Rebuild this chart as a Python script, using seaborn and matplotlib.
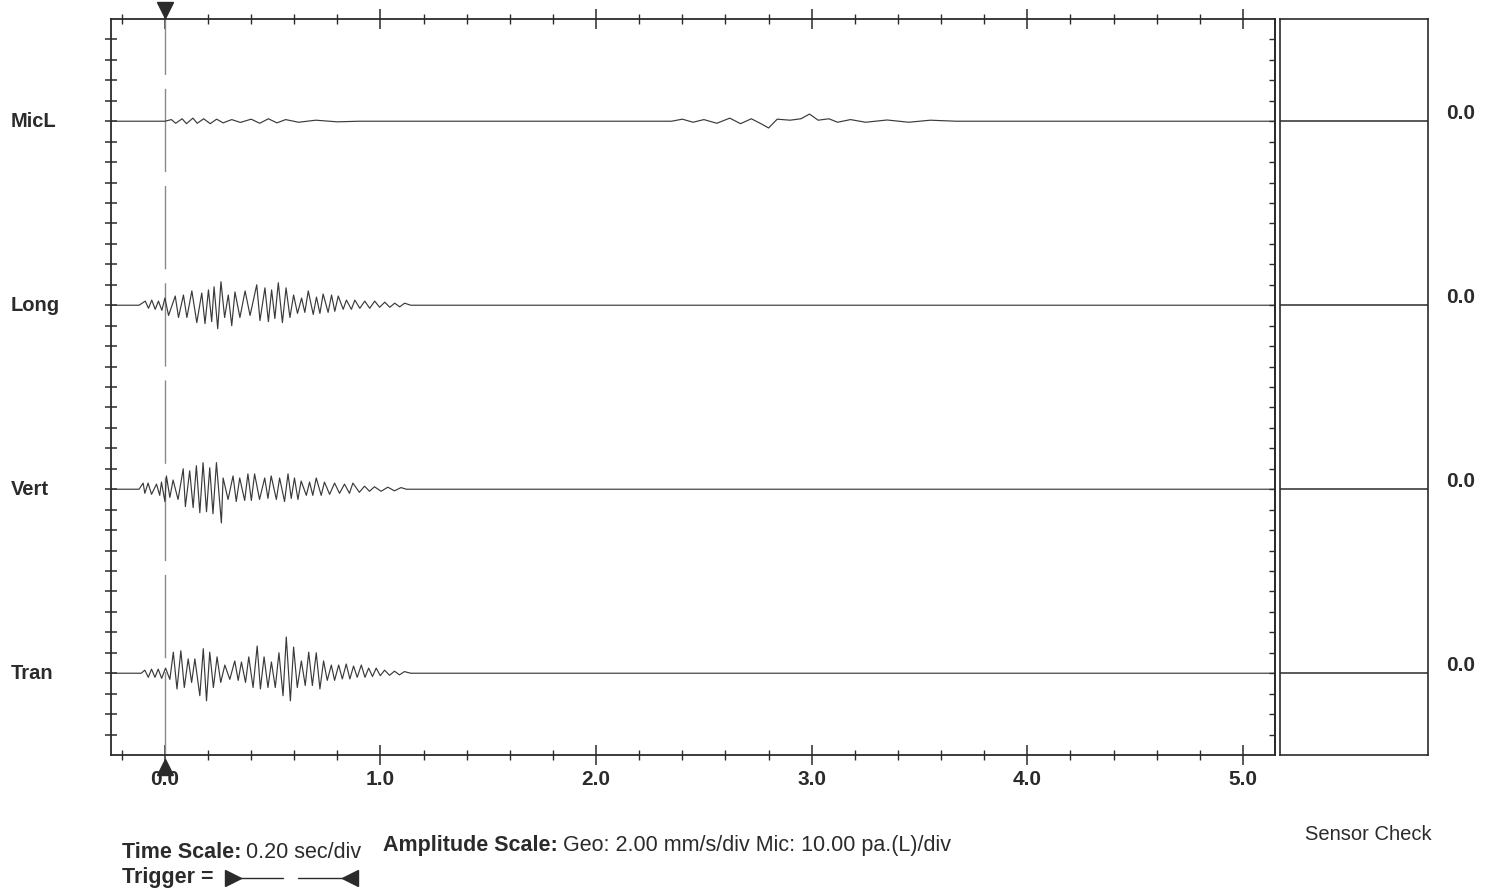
import numpy as np
import pandas as pd
import seaborn as sns
import matplotlib
matplotlib.use('Agg')
import matplotlib.pyplot as plt
from matplotlib.ticker import MultipleLocator
import matplotlib.transforms as mtransforms

# channel names and baseline level (in amplitude divisions)
channels = ['MicL', 'Long', 'Vert', 'Tran']
offsets = [31, 22, 13, 4]
sensor_check = ['0.0', '0.0', '0.0', '0.0']
time_ticks = [0, 1, 2, 3, 4, 5]

# peak / trough points: time (s), amplitude (div)
micl_t = [-0.25, 0.00, 0.03, 0.05, 0.08, 0.10, 0.13, 0.15, 0.18, 0.21, 0.24, 0.27, 0.31, 0.35,
          0.40, 0.44, 0.48, 0.52, 0.56, 0.62, 0.70, 0.80, 0.90, 2.35, 2.40, 2.45, 2.50, 2.56,
          2.62, 2.67, 2.72, 2.77, 2.80, 2.84, 2.90, 2.95, 2.99, 3.03, 3.08, 3.12, 3.18, 3.25,
          3.35, 3.45, 3.55, 3.67, 5.15]
micl_a = [0, 0, 0.08, -0.10, 0.12, -0.12, 0.15, -0.10, 0.12, -0.12, 0.10, -0.08, 0.08, -0.06,
          0.10, -0.10, 0.12, -0.08, 0.08, -0.05, 0.05, -0.03, 0, 0, 0.10, -0.05, 0.08, -0.10,
          0.15, -0.12, 0.12, -0.15, -0.33, 0.10, 0.05, 0.12, 0.35, 0.05, 0.12, -0.05, 0.08, -0.05,
          0.06, -0.05, 0.05, 0, 0]

long_t = [-0.25, -0.12, -0.091, -0.076, -0.061, -0.045, -0.030, -0.014, 0.000, 0.017, 0.048,
          0.063, 0.086, 0.102, 0.125, 0.148, 0.171, 0.186, 0.202, 0.217, 0.228, 0.245, 0.260,
          0.277, 0.294, 0.310, 0.325, 0.348, 0.372, 0.395, 0.426, 0.441, 0.464, 0.480, 0.495,
          0.510, 0.526, 0.545, 0.562, 0.580, 0.597, 0.615, 0.634, 0.649, 0.665, 0.688, 0.703,
          0.719, 0.734, 0.757, 0.773, 0.788, 0.804, 0.827, 0.842, 0.865, 0.881, 0.904, 0.927,
          0.950, 0.973, 0.996, 1.020, 1.043, 1.066, 1.089, 1.112, 1.14, 5.15]
long_a = [0, 0, 0.20, -0.15, 0.25, -0.20, 0.20, -0.25, 0.35, -0.50, 0.45,
          -0.60, 0.50, -0.60, 0.70, -0.85, 0.60, -0.90, 0.75, -0.80, 0.90, -1.15, 1.15,
          -0.60, 0.50, -1.00, 0.65, -0.60, 0.70, -0.50, 1.00, -0.75, 0.85, -0.80, 0.75,
          -0.65, 1.10, -0.85, 0.85, -0.60, 0.50, -0.40, 0.35, -0.35, 0.70, -0.45, 0.40,
          -0.40, 0.55, -0.35, 0.50, -0.30, 0.45, -0.20, 0.25, -0.20, 0.25, -0.15, 0.20,
          -0.15, 0.20, -0.10, 0.15, -0.10, 0.10, -0.08, 0.10, 0, 0]

vert_t = [-0.25, -0.12, -0.101, -0.093, -0.078, -0.062, -0.039, -0.024, -0.016, 0.000, 0.007,
          0.023, 0.038, 0.061, 0.085, 0.095, 0.115, 0.131, 0.146, 0.162, 0.177, 0.193, 0.208,
          0.223, 0.239, 0.262, 0.270, 0.293, 0.316, 0.331, 0.347, 0.370, 0.385, 0.401, 0.416,
          0.439, 0.463, 0.478, 0.493, 0.517, 0.532, 0.555, 0.571, 0.586, 0.601, 0.617, 0.632,
          0.656, 0.671, 0.686, 0.702, 0.725, 0.740, 0.764, 0.787, 0.810, 0.833, 0.856, 0.872,
          0.902, 0.926, 0.949, 0.972, 1.003, 1.034, 1.065, 1.095, 1.12, 5.15]
vert_a = [0, 0, 0.30, -0.20, 0.30, -0.25, 0.25, -0.30, 0.35, -0.60, 0.65,
          -0.40, 0.45, -0.50, 1.00, -0.85, 0.90, -0.90, 1.15, -1.15, 1.30, -1.10, 1.05,
          -1.20, 1.30, -1.65, 0.55, -0.50, 0.65, -0.60, 0.55, -0.55, 0.75, -0.55, 0.75,
          -0.50, 0.55, -0.45, 0.65, -0.50, 0.55, -0.60, 0.75, -0.45, 0.55, -0.50, 0.40,
          -0.30, 0.35, -0.30, 0.55, -0.30, 0.35, -0.25, 0.30, -0.20, 0.25, -0.20, 0.30,
          -0.15, 0.15, -0.10, 0.12, -0.10, 0.10, -0.08, 0.08, 0, 0]

tran_t = [-0.25, -0.11, -0.093, -0.077, -0.062, -0.046, -0.031, -0.015, 0.003, 0.023, 0.039,
          0.056, 0.074, 0.090, 0.108, 0.124, 0.139, 0.162, 0.178, 0.193, 0.208, 0.225, 0.242,
          0.259, 0.278, 0.301, 0.324, 0.340, 0.355, 0.374, 0.389, 0.409, 0.428, 0.443, 0.460,
          0.478, 0.494, 0.512, 0.529, 0.548, 0.563, 0.582, 0.597, 0.614, 0.633, 0.651, 0.667,
          0.684, 0.702, 0.719, 0.736, 0.753, 0.772, 0.787, 0.806, 0.823, 0.841, 0.858, 0.875,
          0.892, 0.911, 0.928, 0.945, 0.963, 0.980, 0.999, 1.019, 1.042, 1.065, 1.088, 1.111,
          1.14, 5.15]
tran_a = [0, 0, 0.15, -0.20, 0.20, -0.20, 0.20, -0.25, 0.25, -0.30, 1.03,
          -0.77, 1.10, -0.70, 0.70, -0.45, 0.70, -1.10, 1.20, -1.35, 1.03, -0.70, 0.80,
          -0.45, 0.40, -0.30, 0.60, -0.35, 0.55, -0.45, 0.80, -0.70, 1.33, -0.77, 0.80,
          -0.70, 0.55, -0.70, 1.00, -1.10, 1.77, -1.35, 1.28, -0.70, 0.60, -0.60, 1.03,
          -0.60, 1.00, -0.77, 0.60, -0.35, 0.40, -0.35, 0.40, -0.28, 0.45, -0.28, 0.35,
          -0.20, 0.40, -0.20, 0.25, -0.16, 0.25, -0.12, 0.15, -0.10, 0.10, -0.08, 0.08,
          0, 0]

traces = {'MicL': (micl_t, micl_a), 'Long': (long_t, long_a),
          'Vert': (vert_t, vert_a), 'Tran': (tran_t, tran_a)}

rows = []
for name, off in zip(channels, offsets):
    tt, aa = traces[name]
    for t, a in zip(tt, aa):
        rows.append({'channel': name, 't': t, 'y': a + off})
df = pd.DataFrame(rows)

sns.set_theme(style='white')
plt.rcParams['font.family'] = ['Liberation Sans', 'DejaVu Sans']

W, H = 1489, 890
fig = plt.figure(figsize=(W / 100, H / 100), dpi=100)
ink = '#2b2b2b'

# main record axes (pixel box 111..1275 x 19..755)
ax = fig.add_axes([111 / W, (H - 755) / H, 1164 / W, 736 / H])
sns.lineplot(data=df, x='t', y='y', hue='channel', palette={c: '#3a3a3a' for c in channels},
             estimator=None, sort=False, legend=False, lw=0.85, ax=ax)
ax.set_xlim(-0.25, 5.149)
ax.set_ylim(0, 36)
ax.set_xlabel('')
ax.set_ylabel('')

# trigger line
ax.axvline(0, color='#8a8a8a', lw=1.0, ls=(0, (60, 10)), zorder=1)
trans = mtransforms.blended_transform_factory(ax.transData, ax.transAxes)
ax.plot([0], [1.012], marker='v', ms=11, color=ink, transform=trans, clip_on=False)
ax.plot([0], [-0.016], marker='^', ms=11, color=ink, transform=trans, clip_on=False, zorder=5)

for s in ax.spines.values():
    s.set_visible(True)
    s.set_color(ink)
    s.set_linewidth(1.3)

ax.set_xticks(time_ticks)
ax.set_xticklabels(['{:.1f}'.format(v) for v in time_ticks], fontsize=15, fontweight='bold', color=ink)
ax.xaxis.set_minor_locator(MultipleLocator(0.2))
ax.tick_params(axis='x', which='major', bottom=True, top=True, direction='inout', length=15,
               width=1.1, color=ink, pad=3)
ax.tick_params(axis='x', which='minor', bottom=True, top=True, direction='inout', length=7,
               width=1.0, color=ink)
ax.set_yticks(range(1, 36))
ax.set_yticklabels([])
ax.tick_params(axis='y', which='major', left=True, right=False, direction='inout', length=9,
               width=1.1, color=ink)
sec = ax.secondary_yaxis('right')
sec.set_yticks(range(1, 36))
sec.set_yticklabels([])
sec.tick_params(direction='in', length=4, width=1.0, color=ink)
sec.spines['right'].set_color(ink)
sec.spines['right'].set_linewidth(1.3)

# channel names on the left
name_tr = mtransforms.blended_transform_factory(fig.transFigure, ax.transData)
for name, off in zip(channels, offsets):
    ax.text(0.007, off, name, transform=name_tr, ha='left', va='center', fontsize=14.5,
            fontweight='bold', color=ink, clip_on=False)

# sensor check panel
axp = fig.add_axes([1280 / W, (H - 755) / H, 148 / W, 736 / H])
axp.set_xlim(0, 1)
axp.set_ylim(0, 36)
for off, val in zip(offsets, sensor_check):
    axp.axhline(off, color=ink, lw=1.1)
    axp.text(1.12, off + 0.4, val, ha='left', va='center', fontsize=15, fontweight='bold',
             color=ink, transform=axp.transData, clip_on=False)
axp.set_xticks([])
axp.set_yticks([])
for s in axp.spines.values():
    s.set_visible(True)
    s.set_color(ink)
    s.set_linewidth(1.2)

# footer notes in pixel coordinates
axo = fig.add_axes([0, 0, 1, 1])
axo.set_xlim(0, W)
axo.set_ylim(H, 0)
axo.axis('off')
axo.patch.set_alpha(0)

fig.canvas.draw()
renderer = fig.canvas.get_renderer()


def pair(x, y, bold, normal, size=15.5):
    t = axo.text(x, y, bold, fontsize=size, fontweight='bold', color=ink, ha='left', va='center')
    bb = t.get_window_extent(renderer=renderer)
    x2 = axo.transData.inverted().transform((bb.x1, bb.y0))[0]
    if normal:
        axo.text(x2 + 5, y, normal, fontsize=size, color=ink, ha='left', va='center')
    return x2


pair(122, 852, 'Time Scale:', '0.20 sec/div')
pair(383, 845, 'Amplitude Scale:', 'Geo: 2.00 mm/s/div Mic: 10.00 pa.(L)/div')
pair(122, 878, 'Trigger =', '')
axo.plot([238, 283], [878, 878], color=ink, lw=1.0)
axo.plot([298, 346], [878, 878], color=ink, lw=1.0)
axo.plot([233], [878], marker='>', ms=11, color=ink)
axo.plot([350], [878], marker='<', ms=11, color=ink)
axo.text(1368, 834, 'Sensor Check', fontsize=14.5, color=ink, ha='center', va='center')

fig.savefig('out.png', dpi=100)
